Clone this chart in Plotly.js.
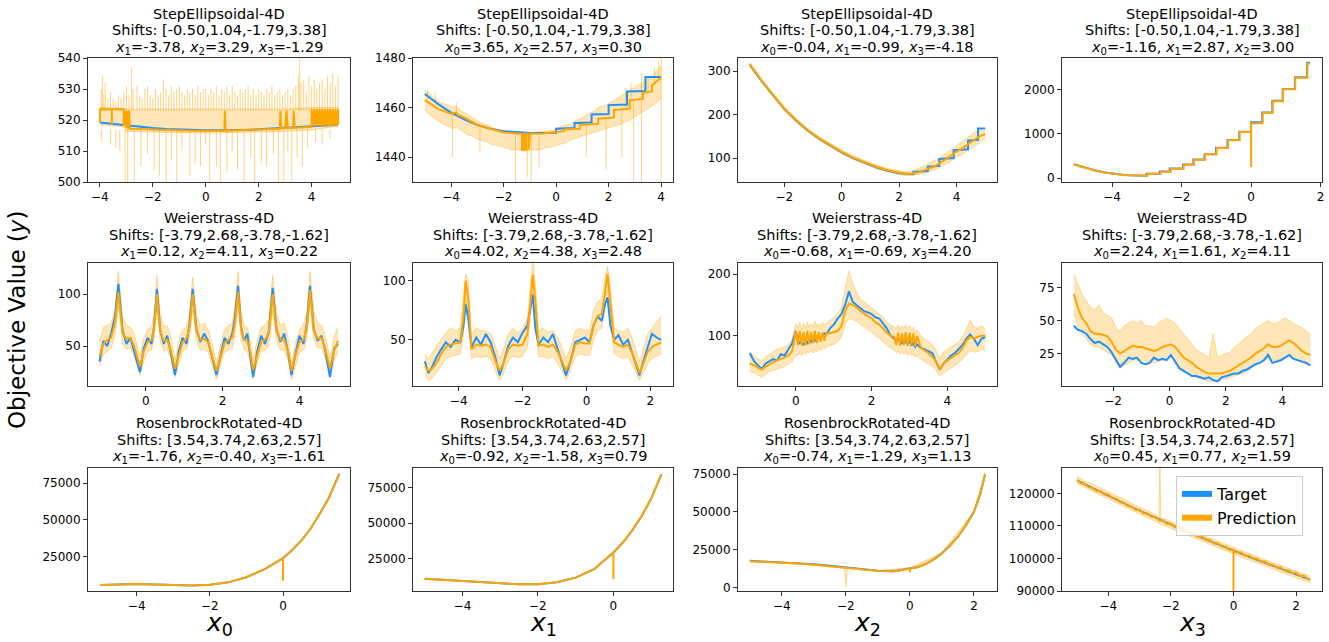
<!DOCTYPE html>
<html><head><meta charset="utf-8">
<script src="https://cdn.plot.ly/plotly-3.0.1.min.js"></script>
<style>html,body{margin:0;padding:0;background:#fff}#chart{width:1329px;height:642px}</style>
</head><body><div id="chart"></div>
<script>
// ---------- Panel A : StepEllipsoidal, x0 ----------
const A_bandX=[-4,-3.5,-3.1,-3.0,-2,-1,0,1,2,3,4,4.5,5];
const A_lo=[518.5,518.2,517.8,516.3,516.0,515.9,515.8,515.9,516.0,516.3,516.8,517.5,518];
const A_hi=[524,524,523.8,523.5,523.5,523.5,523.5,523.5,523.5,523.5,524,524,524];
const A_upX=[-3.95,-3.9,-3.85,-3.8,-3.7,-3.6,-3.5,-3.4,-3.3,-3.2,-3.1,-3.0,-2.9,-2.8,-2.75,-2.6,-2.5,-2.4,-2.3,-2.2,-2.1,-2.0,-1.9,-1.8,-1.7,-1.6,-1.5,-1.4,-1.3,-1.2,-1.1,-1.0,-0.9,-0.8,-0.7,-0.6,-0.5,-0.4,-0.3,-0.2,-0.1,0.0,0.1,0.2,0.3,0.4,0.5,0.6,0.7,0.8,0.9,1.0,1.1,1.2,1.3,1.4,1.5,1.6,1.7,1.8,1.9,2.0,2.1,2.2,2.3,2.4,2.5,2.6,2.7,2.8,2.9,3.0,3.1,3.2,3.3,3.4,3.5,3.55,3.6,3.7,3.8,3.9,4.0,4.1,4.2,4.3,4.4,4.5,4.6,4.7,4.8,4.9,5.0];
const A_upTop=[530,534,528,532,527,529,527,526,528,527,529,531,528,537,530,531,528,527,530,531,528,527,530,528,529,533,530,528,531,529,530,531,529,528,530,529,530,528,531,529,530,530,528,530,529,531,528,530,529,531,528,531,529,528,530,529,530,531,528,530,528,530,529,528,530,529,531,528,529,530,528,529,530,528,530,531,534,540,532,533,529,534,531,533,530,532,533,530,534,532,535,531,534];
const A_upBase=523;
const A_dnX=[-3.95,-3.6,-3.4,-3.25,-3.05,-2.95,-2.7,-2.45,-2.2,-1.95,-1.75,-1.5,-1.3,-1.1,-0.9,-0.6,-0.4,-0.2,0.0,0.15,0.4,0.55,0.8,1.0,1.2,1.45,1.7,1.85,2.1,2.3,2.55,2.75,2.95,3.1,3.25,3.45,3.65,3.85,4.15,4.4,4.7];
const A_dnBot=[513,512,511,510,500,500,500,505,509,504,502,500,507,500,510,502,506,505,512,500,505,500,503,510,504,500,508,500,506,505,509,500,500,510,500,508,505,511,513,512,514];
const A_dnBase=517;
const A_tX=[-4,-3.5,-3,-2.5,-2,-1.5,-1,-0.5,0,0.5,1,1.5,2,2.5,3,3.5,4,4.5,5];
const A_tY=[519.2,518.7,518.2,517.8,517.4,517.1,516.9,516.8,516.7,516.7,516.7,516.8,517.0,517.2,517.4,517.6,517.9,518.2,518.5];
const A_pX=[-4.0,-4.0,-3.55,-3.55,-3.55,-3.1,-3.1,-3.05,-3.02,-2.98,-2.95,-2.9,-2.87,-2.5,-2.0,-1.5,-1.0,-0.5,0.0,0.5,0.7,0.72,0.75,1.0,1.5,2.0,2.5,2.8,2.82,2.85,3.0,3.05,3.1,3.3,3.32,3.36,3.6,3.9,4.0,4.0,4.05,4.1,4.15,4.2,4.25,4.3,4.35,4.4,4.45,4.5,4.55,4.6,4.65,4.7,4.75,4.8,4.85,4.9,4.95,5.0,5.0];
const A_pY=[519,523.5,523.5,518.5,523.5,523.5,518,523,517.5,523,517.3,523,517.2,517.1,516.9,516.7,516.6,516.5,516.5,516.5,516.5,523,516.6,516.6,516.7,516.9,517.1,517.2,523,517.3,517.4,523,517.4,517.5,523,517.5,517.6,517.7,517.8,523.5,518,523.5,518,523.5,518,523.5,518,523.5,518,523.5,518,523.5,518,523.5,518,523.5,518,523.5,518,523.5,518.5];

// ---------- Panel B : StepEllipsoidal, x1 ----------
const B_bandX=[-5.00,-4.85,-4.70,-4.55,-4.40,-4.25,-4.10,-3.95,-3.80,-3.65,-3.50,-3.35,-3.20,-3.05,-2.90,-2.75,-2.60,-2.45,-2.30,-2.15,-2.00,-1.85,-1.70,-1.55,-1.40,-1.25,-1.10,-0.95,-0.80,-0.65,-0.50,-0.35,-0.20,-0.05,0.10,0.25,0.40,0.55,0.70,0.85,1.00,1.15,1.30,1.45,1.60,1.75,1.90,2.05,2.20,2.35,2.50,2.65,2.80,2.95,3.10,3.25,3.40,3.55,3.70,3.85,4.00];
const B_hi=[1467,1466,1464,1463,1462,1461.5,1461,1460,1460.5,1459,1458,1457,1456,1455,1454,1453.5,1453,1452,1451.5,1451,1451,1450.5,1450.5,1450.3,1450.2,1450,1450,1450,1450,1450.2,1450.3,1450.5,1450.7,1451,1452,1452.5,1453,1453.5,1454.5,1455.5,1456,1457,1458,1458.5,1460,1460.5,1461,1462,1463,1464,1465,1466,1467,1468,1469,1470,1471,1472,1473,1475,1477];
const B_lo=[1459,1457.5,1456,1455,1454,1453,1452.5,1451.5,1452,1451,1450,1449,1448.5,1447.5,1447,1446.5,1446,1445,1445,1444.5,1444,1443.5,1443,1443,1443,1442.5,1442.5,1443,1443,1443,1443.5,1444,1444,1444.5,1445,1445.5,1446,1447,1447.5,1448,1448.5,1449,1449.5,1450,1450.5,1451,1451.5,1452,1452.5,1453,1453.5,1454.5,1455,1456,1457,1458,1459,1460,1461,1462,1464];
const B_hairX=[-4.9,-4.6,-3.95,-3.8,-2.9,-1.55,-1.1,-0.95,-0.65,1.15,1.9,2.5,2.65,2.85,2.95,3.25,3.25,3.5,3.75,3.9,4.0,4.0];
const B_hairFrom=[1463,1461,1457,1457,1452,1449,1449,1449,1449,1453,1456,1460,1460,1462,1463,1465,1465,1466,1469,1471,1472,1472];
const B_hairTo=[1467,1466,1440,1462,1442,1430,1432,1430,1436,1440,1435,1440,1468,1470,1430,1474,1430,1472,1476,1479,1480,1430];
const B_tX=[-5,-4.5,-4,-3.5,-3,-2.5,-2,-1.5,-1,-0.5,0,0,0.7,0.7,1.35,1.35,2.0,2.0,2.7,2.7,3.4,3.4,4.0];
const B_tY=[1465.5,1461.5,1458,1455.3,1453,1451.5,1450.5,1450,1449.8,1449.8,1449.9,1451.5,1451.8,1453.8,1454,1457.2,1457.4,1461,1461.2,1466.5,1466.7,1472.3,1472.3];
const B_pX=[-5.0,-4.5,-4.0,-3.8,-3.75,-3.5,-3.0,-2.5,-2.0,-1.5,-1.3,-1.3,-1.25,-1.25,-1.2,-1.2,-1.15,-1.15,-1.05,-1.05,-1.0,-0.5,0.0,0.3,0.3,0.9,0.9,1.6,1.6,2.2,2.2,2.8,2.8,3.3,3.3,3.65,3.65,4.0];
const B_pY=[1463,1459.5,1457.5,1458,1457,1456,1453,1451.5,1450,1449.6,1449.5,1443,1443,1449.5,1449.5,1443,1443,1449.5,1449.5,1443,1449.5,1449.6,1450,1450.5,1451.2,1451.5,1453,1453.5,1455.5,1456,1459,1459.5,1463,1463.5,1466,1466.5,1469,1472];

// ---------- Panel C : StepEllipsoidal, x2 ----------
const C_bandX=[-3.2,-2.8,-2.4,-2.0,-1.6,-1.2,-0.8,-0.4,0.0,0.4,0.8,1.2,1.6,2.0,2.2,2.4,2.6,2.8,3.0,3.2,3.4,3.6,3.8,4.0,4.2,4.4,4.6,4.8,5.0];
const C_pY=[316,279,246,214,188,165,146,129,114,101,90,80,72,66,64,64,66,70,75,80,88,96,105,115,122,132,140,150,155];
const C_hi=[320,283,250,218,192,169,150,133,118,105,94,84,76,70,68,70,74,80,86,94,100,110,120,128,138,150,158,165,160];
const C_lo=[311,275,242,210,184,161,142,125,110,97,86,76,68,62,60,60,62,64,68,72,78,85,92,102,108,118,126,135,145];
const C_tX=[-3.2,-2.8,-2.4,-2,-1.6,-1.2,-0.8,-0.4,0,0.4,0.8,1.2,1.6,2.0,2.5,2.5,3.0,3.0,3.4,3.4,3.9,3.9,4.4,4.4,4.75,4.75,5.0];
const C_tY=[314,278,245,213,187,164,145,128,113,100,89,79,71,65,63,68,70,80,82,98,100,118,120,140,142,168,168];

// ---------- Panel D : StepEllipsoidal, x3 ----------
const D_tX=[-5.1,-4.8,-4.5,-4.2,-4.0,-3.7,-3.5,-3.2,-3.01,-3.01,-2.63,-2.63,-2.34,-2.34,-1.96,-1.96,-1.66,-1.66,-1.34,-1.34,-1.01,-1.01,-0.68,-0.68,-0.34,-0.34,0.0,0.0,0.32,0.32,0.61,0.61,0.91,0.91,1.26,1.26,1.61,1.61,1.7];
const D_tY=[313,238,176,125,99,72,61,53,50,99,99,145,145,214,214,305,305,420,420,542,542,687,687,863,863,1053,1053,1267,1267,1489,1489,1756,1756,2023,2023,2290,2290,2618,2618];
const D_pX=[-5.1,-4.8,-4.5,-4.2,-4.0,-3.7,-3.5,-3.2,-2.98,-2.98,-2.6,-2.6,-2.31,-2.31,-1.94,-1.94,-1.64,-1.64,-1.32,-1.32,-0.99,-0.99,-0.66,-0.66,-0.33,-0.33,0.0,0.0,0.0,0.33,0.33,0.62,0.62,0.92,0.92,1.27,1.27,1.62,1.62,1.7];
const D_pY=[305,232,172,122,97,70,60,52,49,97,97,142,142,210,210,300,300,415,415,538,538,680,680,858,858,1045,1045,250,1245,1245,1480,1480,1745,1745,2015,2015,2280,2280,2600,2600];

// ---------- Panel E : Weierstrass, x0 ----------
const E_x=[-1.2,-1.1,-1.0,-0.9,-0.8,-0.71,-0.6,-0.5,-0.4,-0.3,-0.15,-0.05,0.05,0.15,0.22,0.29,0.38,0.47,0.56,0.66,0.76,0.86,0.96,1.06,1.14,1.22,1.32,1.42,1.52,1.62,1.72,1.84,1.95,2.05,2.15,2.25,2.32,2.40,2.48,2.56,2.64,2.72,2.79,2.90,3.00,3.10,3.20,3.30,3.40,3.50,3.60,3.70,3.79,3.90,4.00,4.10,4.19,4.27,4.37,4.47,4.57,4.67,4.79,4.90,5.00];
const E_tY=[35,55,50,62,78,110,65,52,58,45,25,48,58,52,70,105,65,52,60,42,22,45,58,52,72,105,66,54,62,55,40,22,42,58,52,62,78,108,68,55,62,42,20,45,60,52,64,106,66,54,62,44,22,44,60,52,72,108,66,55,60,45,20,48,52];
const E_pY=[40,52,56,58,72,102,62,57,58,50,30,45,54,56,68,100,64,55,56,45,28,42,54,57,68,100,64,56,57,54,42,26,40,53,56,58,72,102,66,56,55,44,27,42,54,56,62,100,65,56,56,45,26,42,54,56,68,104,65,57,58,47,28,46,55];
const E_hi=[55,68,70,72,85,122,78,70,68,62,40,58,66,68,82,118,80,68,70,58,36,55,66,68,84,116,80,70,72,66,54,34,52,66,70,72,90,122,82,70,68,56,36,56,68,70,76,118,82,70,72,58,34,54,66,70,84,122,84,72,70,60,38,60,68];
const E_lo=[30,42,45,48,60,88,52,47,48,40,22,35,45,46,58,85,55,45,47,36,20,33,45,47,58,85,55,46,47,44,33,18,32,44,46,48,60,88,56,46,45,34,18,34,45,46,50,84,55,46,46,36,18,32,44,46,56,88,55,48,48,38,20,36,45];

// ---------- Panel F : Weierstrass, x1 ----------
const F_x=[-5.06,-4.95,-4.85,-4.7,-4.55,-4.4,-4.25,-4.1,-3.95,-3.85,-3.78,-3.7,-3.6,-3.45,-3.3,-3.15,-3.0,-2.85,-2.72,-2.6,-2.45,-2.3,-2.15,-2.0,-1.85,-1.76,-1.68,-1.6,-1.5,-1.35,-1.2,-1.05,-0.9,-0.77,-0.64,-0.5,-0.35,-0.2,-0.05,0.1,0.22,0.35,0.48,0.58,0.66,0.75,0.87,1.0,1.15,1.3,1.45,1.58,1.66,1.78,1.92,2.05,2.2,2.34];
const F_tY=[32,22,26,35,42,48,44,50,48,62,80,68,44,52,46,55,48,35,20,30,45,52,48,56,62,75,88,60,46,52,48,55,42,30,20,32,48,50,52,48,62,70,66,80,86,62,50,54,46,50,38,26,20,32,44,55,52,50];
const F_pY=[28,24,25,30,38,44,46,47,48,70,100,85,42,46,45,46,44,32,24,30,42,46,45,46,55,80,105,82,45,46,44,46,40,32,24,32,46,48,47,47,62,70,72,90,106,80,48,46,44,46,38,28,22,30,40,44,46,48];
const F_hi=[38,34,38,45,50,56,60,58,60,85,106,100,55,60,58,58,55,45,34,42,55,60,56,60,68,95,118,98,58,60,56,58,52,44,34,44,58,60,58,58,75,82,85,102,112,95,60,58,56,60,50,38,32,42,55,60,65,70];
const F_lo=[20,16,17,22,28,34,36,37,38,55,85,70,34,36,35,36,34,24,16,22,32,36,35,36,44,65,90,68,36,36,34,36,30,24,16,24,36,38,37,37,50,58,60,76,92,66,38,36,34,36,28,20,16,22,30,34,36,38];

// ---------- Panel G : Weierstrass, x2 ----------
const G_x=[-1.22,-1.1,-1.0,-0.9,-0.8,-0.7,-0.6,-0.5,-0.4,-0.3,-0.2,-0.1,0.0,0.05,0.1,0.15,0.2,0.25,0.3,0.35,0.4,0.45,0.5,0.55,0.6,0.65,0.7,0.75,0.8,0.9,1.0,1.1,1.2,1.3,1.4,1.5,1.6,1.7,1.8,1.9,2.0,2.1,2.2,2.3,2.4,2.5,2.6,2.65,2.7,2.75,2.8,2.85,2.9,2.95,3.0,3.05,3.1,3.15,3.2,3.3,3.4,3.5,3.6,3.7,3.8,3.9,4.0,4.1,4.2,4.3,4.4,4.5,4.6,4.7,4.8,4.9,5.0];
const G_tY=[72,58,52,46,55,58,62,60,70,68,78,88,108,92,88,90,85,92,88,94,90,96,92,95,98,96,100,104,102,112,118,128,135,150,172,155,150,145,140,138,135,130,128,120,112,100,95,90,96,92,88,95,90,86,92,84,88,82,86,80,78,75,72,58,45,55,62,68,72,78,85,95,102,95,85,95,98];
const G_pY=[55,52,48,45,50,54,57,60,62,65,68,75,108,85,108,84,106,85,108,86,106,88,108,88,106,90,105,92,104,104,106,108,115,140,152,150,146,140,136,132,128,122,118,112,105,100,98,85,105,84,104,85,106,84,105,85,104,83,100,80,76,72,66,58,46,55,60,64,68,72,80,92,98,96,98,100,100];
const G_hi=[72,68,62,60,66,70,74,78,80,82,86,95,120,112,122,110,120,112,122,114,120,114,124,116,120,115,122,118,120,125,130,135,145,175,205,185,170,160,155,150,146,140,136,130,122,118,115,112,118,110,116,112,118,110,116,108,114,106,110,100,95,90,86,76,64,74,78,82,86,90,98,110,125,115,112,116,112];
const G_lo=[42,40,36,32,38,42,44,46,48,50,54,58,70,68,72,68,74,70,74,72,76,72,76,74,78,76,80,78,82,84,86,90,98,118,128,126,124,118,114,110,106,100,96,90,84,80,76,72,76,70,74,70,74,68,72,68,70,66,68,62,58,54,50,44,34,40,44,48,52,56,62,70,76,74,74,78,76];

// ---------- Panel H : Weierstrass, x3 ----------
const H_x=[-3.39,-3.25,-3.1,-2.95,-2.8,-2.65,-2.5,-2.35,-2.2,-2.05,-1.9,-1.75,-1.6,-1.45,-1.3,-1.15,-1.0,-0.85,-0.7,-0.55,-0.4,-0.25,-0.1,0.05,0.2,0.35,0.5,0.65,0.8,0.95,1.1,1.25,1.4,1.55,1.7,1.85,2.0,2.15,2.3,2.45,2.6,2.75,2.9,3.05,3.2,3.35,3.5,3.65,3.8,3.95,4.1,4.25,4.4,4.55,4.7,4.85,5.0];
const H_tY=[46,43,42,40,36,33,34,32,30,26,20,15,18,22,21,22,18,17,18,22,20,21,20,24,19,14,12,10,8,8,7,6,7,5,4,7,8,9,10,10,12,13,15,17,18,20,24,18,19,20,22,24,21,20,19,18,16];
const H_pY=[70,60,52,48,42,40,40,39,38,34,28,25,27,29,31,30,30,29,28,27,28,30,31,32,30,26,22,20,18,15,13,11,10,10,10,10,11,12,14,16,18,20,22,25,27,29,32,30,30,31,33,35,33,30,27,25,24];
const H_hi=[85,78,70,65,60,58,62,56,54,52,45,42,46,48,50,48,50,46,46,45,48,50,52,50,48,44,40,36,32,28,26,24,22,40,22,24,25,26,30,32,35,38,40,44,46,48,50,48,48,50,52,50,48,46,45,42,40];
const H_lo=[55,46,40,36,32,30,30,28,26,24,18,14,16,18,20,20,20,19,18,18,19,20,21,22,20,16,13,11,9,7,6,5,4,4,4,5,6,7,8,9,10,12,14,16,18,20,22,20,20,21,22,24,22,20,18,17,16];

// ---------- Panel I : RosenbrockRotated, x0 ----------
const I_tX=[-5,-4.5,-4,-3.5,-3,-2.5,-2,-1.5,-1,-0.5,0,0.25,0.5,0.75,1,1.25,1.54];
const I_tY=[5700,6000,6300,6000,5600,5400,5800,7500,11000,16500,24000,29500,36000,44000,54000,65000,81500];
const I_pX=[-5,-4.5,-4,-3.5,-3,-2.5,-2,-1.5,-1,-0.5,0,0,0,0.25,0.5,0.75,1,1.25,1.54];
const I_pY=[5700,6000,6300,6000,5600,5400,5800,7500,11000,16500,24000,8500,24000,29500,36000,44000,54000,65000,81500];

// ---------- Panel J : RosenbrockRotated, x1 ----------
const J_tX=[-5,-4.5,-4,-3.5,-3,-2.5,-2,-1.5,-1,-0.5,0,0.25,0.5,0.75,1.0,1.27];
const J_tY=[11200,10400,9700,8900,8000,7300,7400,8800,12000,18000,29500,36500,45000,55000,67000,84000];
const J_pX=[-5,-4.5,-4,-3.5,-3,-2.5,-2,-1.5,-1,-0.5,0,0,0,0.25,0.5,0.75,1.0,1.27];
const J_pY=[11200,10400,9700,8900,8000,7300,7400,8800,12000,18000,29500,11000,29500,36500,45000,55000,67000,84000];

// ---------- Panel K : RosenbrockRotated, x2 ----------
const K_tX=[-5,-4.5,-4,-3.5,-3,-2.5,-2,-1.5,-1,-0.5,0,0.25,0.5,0.75,1.0,1.25,1.5,1.75,2.0,2.2,2.35];
const K_tY=[17500,17000,16500,16000,15200,14200,13000,11800,10900,10600,12500,13500,15500,18500,22500,27500,33500,41000,50000,62000,75000];
const K_pX=[-5,-4.5,-4,-3.5,-3,-2.5,-2,-1.5,-1,-0.5,0,0,0,0.25,0.5,0.75,1.0,1.25,1.5,1.75,2.0,2.2,2.35];
const K_pY=[17200,16800,16300,15800,15000,14000,12900,11700,10800,10500,12300,10000,12300,13400,15400,18400,22400,27400,33400,40900,49900,61900,75000];
const K_bandX=[-5,-4,-3,-2.05,-2,-1.95,-1,0,1,2,2.35];
const K_lo=[17000,16000,14700,12800,500,12700,10500,12000,22000,49500,74500];
const K_hi=[17900,16900,15500,13400,13300,13200,11200,13000,23000,50500,75500];

// ---------- Panel L : RosenbrockRotated, x3 ----------
const L_bandX=[-5,-4.75,-4.5,-4.25,-4,-3.75,-3.5,-3.25,-3,-2.75,-2.5,-2.38,-2.35,-2.32,-2.25,-2,-1.75,-1.5,-1.25,-1,-0.75,-0.5,-0.25,0,0.25,0.5,0.75,1,1.25,1.5,1.75,2,2.25,2.45];
const L_hi=[125200,123800,122900,121600,120500,119300,118300,116900,115900,114700,113600,112600,130000,112400,112400,111300,110300,109400,108200,107300,106300,105400,104300,103400,102400,101500,100600,99700,98900,97900,97000,96200,95300,94500];
const L_lo=[123000,121700,120600,119400,118300,117100,115900,114800,113600,112600,111400,110700,110600,110500,110300,109200,108300,107200,106300,105300,104300,103200,102300,101300,100400,99500,98600,97700,96800,95900,95100,94100,93300,92500];
const L_tX=[-5,-4.75,-4.5,-4.25,-4,-3.75,-3.5,-3.25,-3,-2.75,-2.5,-2.25,-2,-1.75,-1.5,-1.25,-1,-0.75,-0.5,-0.25,0,0.25,0.5,0.75,1,1.25,1.5,1.75,2,2.25,2.45];
const L_tY=[124000,122800,121600,120500,119400,118200,117000,115800,114700,113600,112500,111400,110300,109300,108300,107300,106300,105300,104300,103300,102300,101400,100500,99600,98700,97800,96900,96000,95100,94300,93500];
const L_pX=[-5,-4.875,-4.75,-4.625,-4.5,-4.375,-4.25,-4.125,-4,-3.875,-3.75,-3.625,-3.5,-3.375,-3.25,-3.125,-3,-2.875,-2.75,-2.625,-2.5,-2.375,-2.25,-2.125,-2,-1.875,-1.75,-1.625,-1.5,-1.375,-1.25,-1.125,-1,-0.875,-0.75,-0.625,-0.5,-0.375,-0.25,-0.125,0,0,0,0.125,0.25,0.375,0.5,0.625,0.75,0.875,1,1.125,1.25,1.375,1.5,1.625,1.75,1.875,2,2.125,2.25,2.375,2.45];
const L_pY=[124200,123100,122900,121900,121700,120700,120800,119600,119700,118500,118400,117300,117200,116100,116000,114900,115000,113800,113900,112800,112800,111700,111700,110600,110700,109600,109700,108600,108700,107600,107600,106600,106700,105600,105700,104600,104700,103600,103700,102600,102700,89000,102200,101800,101800,100800,100900,99900,100000,99000,99100,98100,98100,97200,97300,96300,96400,95500,95500,94600,94700,93800,93400];

// ---------- titles ----------
const funcNames=['StepEllipsoidal-4D','Weierstrass-4D','RosenbrockRotated-4D'];
const shiftTexts=['Shifts: [-0.50,1.04,-1.79,3.38]','Shifts: [-3.79,2.68,-3.78,-1.62]','Shifts: [3.54,3.74,2.63,2.57]'];
const fixedTexts=[
 ['<i>x</i><sub>1</sub>=-3.78, <i>x</i><sub>2</sub>=3.29, <i>x</i><sub>3</sub>=-1.29','<i>x</i><sub>0</sub>=3.65, <i>x</i><sub>2</sub>=2.57, <i>x</i><sub>3</sub>=0.30','<i>x</i><sub>0</sub>=-0.04, <i>x</i><sub>1</sub>=-0.99, <i>x</i><sub>3</sub>=-4.18','<i>x</i><sub>0</sub>=-1.16, <i>x</i><sub>1</sub>=2.87, <i>x</i><sub>2</sub>=3.00'],
 ['<i>x</i><sub>1</sub>=0.12, <i>x</i><sub>2</sub>=4.11, <i>x</i><sub>3</sub>=0.22','<i>x</i><sub>0</sub>=4.02, <i>x</i><sub>2</sub>=4.38, <i>x</i><sub>3</sub>=2.48','<i>x</i><sub>0</sub>=-0.68, <i>x</i><sub>1</sub>=-0.69, <i>x</i><sub>3</sub>=4.20','<i>x</i><sub>0</sub>=2.24, <i>x</i><sub>1</sub>=1.61, <i>x</i><sub>2</sub>=4.11'],
 ['<i>x</i><sub>1</sub>=-1.76, <i>x</i><sub>2</sub>=-0.40, <i>x</i><sub>3</sub>=-1.61','<i>x</i><sub>0</sub>=-0.92, <i>x</i><sub>2</sub>=-1.58, <i>x</i><sub>3</sub>=0.79','<i>x</i><sub>0</sub>=-0.74, <i>x</i><sub>1</sub>=-1.29, <i>x</i><sub>3</sub>=1.13','<i>x</i><sub>0</sub>=0.45, <i>x</i><sub>1</sub>=0.77, <i>x</i><sub>2</sub>=1.59']
];
const xLabels=['<i>x</i><sub>0</sub>','<i>x</i><sub>1</sub>','<i>x</i><sub>2</sub>','<i>x</i><sub>3</sub>'];

// hair segments (thin vertical noise lines) built from the data arrays
function hairsConst(xs, base, ends){const X=[],Y=[];xs.forEach((x,i)=>{X.push(x,x,null);Y.push(base,ends[i],null);});return {X,Y};}
function hairsVar(xs, from, to){const X=[],Y=[];xs.forEach((x,i)=>{X.push(x,x,null);Y.push(from[i],to[i],null);});return {X,Y};}
const A_up=hairsConst(A_upX,A_upBase,A_upTop), A_dn=hairsConst(A_dnX,A_dnBase,A_dnBot), B_h=hairsVar(B_hairX,B_hairFrom,B_hairTo);

const panels=[
 {bx:A_bandX,lo:A_lo,hi:A_hi,hairs:[A_up,A_dn],tx:A_tX,ty:A_tY,px:A_pX,py:A_pY,xr:[-4.45,5.45],yr:[500,540],yd:10},
 {bx:B_bandX,lo:B_lo,hi:B_hi,hairs:[B_h],tx:B_tX,ty:B_tY,px:B_pX,py:B_pY,xr:[-5.45,4.45],yr:[1430,1480],yd:20},
 {bx:C_bandX,lo:C_lo,hi:C_hi,tx:C_tX,ty:C_tY,px:C_bandX,py:C_pY,xr:[-3.61,5.41],yr:[45,330],yd:100},
 {bx:null,tx:D_tX,ty:D_tY,px:D_pX,py:D_pY,xr:[-5.44,2.04],yr:[-91,2727],yd:1000},
 {bx:E_x,lo:E_lo,hi:E_hi,tx:E_x,ty:E_tY,px:E_x,py:E_pY,xr:[-1.5,5.31],yr:[11.5,130],yd:50},
 {bx:F_x,lo:F_lo,hi:F_hi,tx:F_x,ty:F_tY,px:F_x,py:F_pY,xr:[-5.43,2.71],yr:[11,115],yd:50},
 {bx:G_x,lo:G_lo,hi:G_hi,tx:G_x,ty:G_tY,px:G_x,py:G_pY,xr:[-1.53,5.31],yr:[18.5,218],yd:100},
 {bx:H_x,lo:H_lo,hi:H_hi,tx:H_x,ty:H_tY,px:H_x,py:H_pY,xr:[-3.81,5.41],yr:[0.5,93.5],yd:25},
 {bx:null,tx:I_tX,ty:I_tY,px:I_pX,py:I_pY,xr:[-5.33,1.83],yr:[1600,85400],yd:25000},
 {bx:null,tx:J_tX,ty:J_tY,px:J_pX,py:J_pY,xr:[-5.31,1.58],yr:[2650,88500],yd:25000},
 {bx:K_bandX,lo:K_lo,hi:K_hi,tx:K_tX,ty:K_tY,px:K_pX,py:K_pY,xr:[-5.37,2.72],yr:[-2450,79000],yd:25000},
 {bx:L_bandX,lo:L_lo,hi:L_hi,tx:L_tX,ty:L_tY,px:L_pX,py:L_pY,xr:[-5.48,2.83],yr:[90000,127800],yd:10000}
];

const W=1329,H=642;
const colsPx=[[88,350],[413,673],[738,997],[1062,1322]];
const rowsPx=[[58,182],[263,386],[468,591]];
const titleY=[[13.5,30.5,47.5],[218,235,252],[423,440,457]];
const BLUE='#1E90FF', ORANGE='#FFA500';
const FONT='DejaVu Sans';

const traces=[], annotations=[], layout={
  width:W,height:H,margin:{l:0,r:0,t:0,b:0},paper_bgcolor:'#fff',plot_bgcolor:'#fff',
  showlegend:true,
  legend:{x:1176/W,y:1-476/H,xanchor:'left',yanchor:'top',traceorder:'normal',bgcolor:'rgba(255,255,255,0.85)',bordercolor:'#cccccc',borderwidth:1,font:{family:FONT,size:16,color:'#000'},tracegroupgap:2}
};

panels.forEach((p,i)=>{
  const r=Math.floor(i/4), c=i%4, n=i+1, s=(n===1?'':n);
  const xa='x'+s, ya='y'+s;
  if(p.hairs){
    p.hairs.forEach(h=>traces.push({x:h.X,y:h.Y,xaxis:xa,yaxis:ya,mode:'lines',line:{color:'rgba(255,165,0,0.5)',width:1},showlegend:false,hoverinfo:'skip',connectgaps:false}));
  }
  if(p.bx){
    traces.push({x:p.bx,y:p.lo,xaxis:xa,yaxis:ya,mode:'lines',line:{color:'rgba(255,165,0,0.45)',width:0.8},showlegend:false,hoverinfo:'skip'});
    traces.push({x:p.bx,y:p.hi,xaxis:xa,yaxis:ya,mode:'lines',fill:'tonexty',fillcolor:'rgba(255,165,0,0.28)',line:{color:'rgba(255,165,0,0.45)',width:0.8},showlegend:false,hoverinfo:'skip'});
  }
  traces.push({x:p.tx,y:p.ty,xaxis:xa,yaxis:ya,mode:'lines',line:{color:BLUE,width:2},showlegend:false});
  traces.push({x:p.px,y:p.py,xaxis:xa,yaxis:ya,mode:'lines',line:{color:ORANGE,width:2},showlegend:false});
  const common={showline:true,mirror:true,linecolor:'#333',linewidth:1,ticks:'outside',ticklen:4,tickwidth:1,tickcolor:'#333',showgrid:false,zeroline:false,tickfont:{family:FONT,size:12,color:'#000'},fixedrange:true};
  layout['xaxis'+s]=Object.assign({},common,{domain:[colsPx[c][0]/W,colsPx[c][1]/W],anchor:ya,range:p.xr,dtick:2,tick0:0});
  layout['yaxis'+s]=Object.assign({},common,{domain:[1-rowsPx[r][1]/H,1-rowsPx[r][0]/H],anchor:xa,range:p.yr,dtick:p.yd,tick0:0,tickformat:'d'});
  const cx=(colsPx[c][0]+colsPx[c][1])/2/W;
  [funcNames[r],shiftTexts[r],fixedTexts[r][c]].forEach((t,k)=>{
    annotations.push({text:t,xref:'paper',yref:'paper',x:cx,y:1-titleY[r][k]/H,xanchor:'center',yanchor:'middle',showarrow:false,font:{family:FONT,size:14.5,color:'#000'}});
  });
  if(r===2){
    annotations.push({text:xLabels[c],xref:'paper',yref:'paper',x:cx,y:1-642/H,xanchor:'center',yanchor:'bottom',showarrow:false,font:{family:FONT,size:25,color:'#000'}});
  }
});
annotations.push({text:'Objective Value (<i>y</i>)',xref:'paper',yref:'paper',x:17/W,y:1-320/H,xanchor:'center',yanchor:'middle',textangle:-90,showarrow:false,font:{family:FONT,size:23,color:'#000'}});
layout.annotations=annotations;

// legend entries
traces.push({x:[null],y:[null],xaxis:'x12',yaxis:'y12',mode:'lines',name:'Target',line:{color:BLUE,width:6},showlegend:true});
traces.push({x:[null],y:[null],xaxis:'x12',yaxis:'y12',mode:'lines',name:'Prediction',line:{color:ORANGE,width:6},showlegend:true});

Plotly.newPlot('chart',traces,layout,{displayModeBar:false,staticPlot:true});
</script>
</body></html>
